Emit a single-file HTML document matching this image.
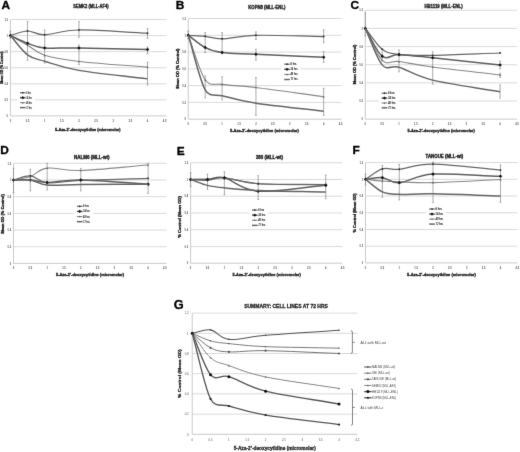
<!DOCTYPE html>
<html><head><meta charset="utf-8"><style>
html,body{margin:0;padding:0;background:#fff;width:520px;height:452px;overflow:hidden}
svg{display:block;filter:grayscale(1)}
text{font-family:"Liberation Sans",sans-serif}
</style></head><body>
<svg width="520" height="452" viewBox="0 0 520 452">
<defs><filter id="soft" x="0" y="0" width="520" height="452" filterUnits="userSpaceOnUse" color-interpolation-filters="sRGB">
<feConvolveMatrix order="3" kernelMatrix="0.00524 0.06192 0.00524 0.06192 0.73137 0.06192 0.00524 0.06192 0.00524" edgeMode="duplicate" preserveAlpha="true"/></filter></defs>
<rect width="520" height="452" fill="#fff"/>
<g filter="url(#soft)">
<rect width="520" height="452" fill="#fff"/>
<line x1="10.40" y1="99.84" x2="166.50" y2="99.84" stroke="#dadada" stroke-width="1.00"/>
<line x1="10.40" y1="83.78" x2="166.50" y2="83.78" stroke="#dadada" stroke-width="1.00"/>
<line x1="10.40" y1="67.72" x2="166.50" y2="67.72" stroke="#dadada" stroke-width="1.00"/>
<line x1="10.40" y1="51.66" x2="166.50" y2="51.66" stroke="#dadada" stroke-width="1.00"/>
<line x1="10.40" y1="35.60" x2="166.50" y2="35.60" stroke="#dadada" stroke-width="1.00"/>
<line x1="10.40" y1="19.54" x2="166.50" y2="19.54" stroke="#dadada" stroke-width="1.00"/>
<line x1="10.40" y1="115.90" x2="166.50" y2="115.90" stroke="#c4c4c4" stroke-width="0.90"/>
<line x1="10.40" y1="19.54" x2="10.40" y2="115.90" stroke="#c4c4c4" stroke-width="0.90"/>
<text x="8.00" y="117.14" font-size="2.60" text-anchor="end" font-weight="bold" fill="#5a5a5a">0</text>
<text x="8.00" y="101.08" font-size="2.60" text-anchor="end" font-weight="bold" fill="#5a5a5a">0.2</text>
<text x="8.00" y="85.02" font-size="2.60" text-anchor="end" font-weight="bold" fill="#5a5a5a">0.4</text>
<text x="8.00" y="68.96" font-size="2.60" text-anchor="end" font-weight="bold" fill="#5a5a5a">0.6</text>
<text x="8.00" y="52.90" font-size="2.60" text-anchor="end" font-weight="bold" fill="#5a5a5a">0.8</text>
<text x="8.00" y="36.84" font-size="2.60" text-anchor="end" font-weight="bold" fill="#5a5a5a">1</text>
<text x="8.00" y="20.78" font-size="2.60" text-anchor="end" font-weight="bold" fill="#5a5a5a">1.2</text>
<text x="10.40" y="121.90" font-size="2.60" text-anchor="middle" font-weight="bold" fill="#5a5a5a">0</text>
<text x="27.54" y="121.90" font-size="2.60" text-anchor="middle" font-weight="bold" fill="#5a5a5a">0.5</text>
<text x="44.68" y="121.90" font-size="2.60" text-anchor="middle" font-weight="bold" fill="#5a5a5a">1</text>
<text x="61.82" y="121.90" font-size="2.60" text-anchor="middle" font-weight="bold" fill="#5a5a5a">1.5</text>
<text x="78.96" y="121.90" font-size="2.60" text-anchor="middle" font-weight="bold" fill="#5a5a5a">2</text>
<text x="96.10" y="121.90" font-size="2.60" text-anchor="middle" font-weight="bold" fill="#5a5a5a">2.5</text>
<text x="113.24" y="121.90" font-size="2.60" text-anchor="middle" font-weight="bold" fill="#5a5a5a">3</text>
<text x="130.38" y="121.90" font-size="2.60" text-anchor="middle" font-weight="bold" fill="#5a5a5a">3.5</text>
<text x="147.52" y="121.90" font-size="2.60" text-anchor="middle" font-weight="bold" fill="#5a5a5a">4</text>
<text x="164.66" y="121.90" font-size="2.60" text-anchor="middle" font-weight="bold" fill="#5a5a5a">4.5</text>
<line x1="10.40" y1="31.10" x2="10.40" y2="38.30" stroke="#888888" stroke-width="0.70"/>
<line x1="9.50" y1="31.10" x2="11.30" y2="31.10" stroke="#888888" stroke-width="0.60"/>
<line x1="9.50" y1="38.30" x2="11.30" y2="38.30" stroke="#888888" stroke-width="0.60"/>
<line x1="27.54" y1="21.40" x2="27.54" y2="60.30" stroke="#888888" stroke-width="0.70"/>
<line x1="26.64" y1="21.40" x2="28.44" y2="21.40" stroke="#888888" stroke-width="0.60"/>
<line x1="26.64" y1="60.30" x2="28.44" y2="60.30" stroke="#888888" stroke-width="0.60"/>
<line x1="44.68" y1="29.90" x2="44.68" y2="63.10" stroke="#888888" stroke-width="0.70"/>
<line x1="43.78" y1="29.90" x2="45.58" y2="29.90" stroke="#888888" stroke-width="0.60"/>
<line x1="43.78" y1="63.10" x2="45.58" y2="63.10" stroke="#888888" stroke-width="0.60"/>
<line x1="78.96" y1="21.70" x2="78.96" y2="37.30" stroke="#888888" stroke-width="0.70"/>
<line x1="78.06" y1="21.70" x2="79.86" y2="21.70" stroke="#888888" stroke-width="0.60"/>
<line x1="78.06" y1="37.30" x2="79.86" y2="37.30" stroke="#888888" stroke-width="0.60"/>
<line x1="78.96" y1="45.10" x2="78.96" y2="64.60" stroke="#888888" stroke-width="0.70"/>
<line x1="78.06" y1="45.10" x2="79.86" y2="45.10" stroke="#888888" stroke-width="0.60"/>
<line x1="78.06" y1="64.60" x2="79.86" y2="64.60" stroke="#888888" stroke-width="0.60"/>
<line x1="147.52" y1="28.50" x2="147.52" y2="38.30" stroke="#888888" stroke-width="0.70"/>
<line x1="146.62" y1="28.50" x2="148.42" y2="28.50" stroke="#888888" stroke-width="0.60"/>
<line x1="146.62" y1="38.30" x2="148.42" y2="38.30" stroke="#888888" stroke-width="0.60"/>
<line x1="147.52" y1="47.00" x2="147.52" y2="53.80" stroke="#888888" stroke-width="0.70"/>
<line x1="146.62" y1="47.00" x2="148.42" y2="47.00" stroke="#888888" stroke-width="0.60"/>
<line x1="146.62" y1="53.80" x2="148.42" y2="53.80" stroke="#888888" stroke-width="0.60"/>
<line x1="147.52" y1="62.20" x2="147.52" y2="85.00" stroke="#888888" stroke-width="0.70"/>
<line x1="146.62" y1="62.20" x2="148.42" y2="62.20" stroke="#888888" stroke-width="0.60"/>
<line x1="146.62" y1="85.00" x2="148.42" y2="85.00" stroke="#888888" stroke-width="0.60"/>
<path d="M10.40,35.60 C16.11,38.81 21.83,41.96 27.54,45.24 C33.25,48.51 36.11,52.57 44.68,55.27 C53.25,57.98 61.82,59.48 78.96,61.46 C96.10,63.44 124.67,65.26 147.52,67.16" fill="none" stroke="#888888" stroke-width="1.10"/>
<path d="M10.40,34.50l1.10,1.98h-2.20z" fill="#666"/>
<path d="M27.54,44.14l1.10,1.98h-2.20z" fill="#666"/>
<path d="M44.68,54.17l1.10,1.98h-2.20z" fill="#666"/>
<path d="M78.96,60.36l1.10,1.98h-2.20z" fill="#666"/>
<path d="M147.52,66.06l1.10,1.98h-2.20z" fill="#666"/>
<path d="M10.40,35.60 C16.11,34.07 21.83,31.16 27.54,31.02 C33.25,30.89 36.11,34.97 44.68,34.80 C53.25,34.62 61.82,30.25 78.96,29.98 C96.10,29.71 124.67,32.12 147.52,33.19" fill="none" stroke="#686868" stroke-width="1.20"/>
<path d="M10.40,34.40l1.20,1.20l-1.20,1.20l-1.20,-1.20z" fill="#333"/>
<path d="M27.54,29.82l1.20,1.20l-1.20,1.20l-1.20,-1.20z" fill="#333"/>
<path d="M44.68,33.60l1.20,1.20l-1.20,1.20l-1.20,-1.20z" fill="#333"/>
<path d="M78.96,28.78l1.20,1.20l-1.20,1.20l-1.20,-1.20z" fill="#333"/>
<path d="M147.52,31.99l1.20,1.20l-1.20,1.20l-1.20,-1.20z" fill="#333"/>
<path d="M10.40,35.60 C16.11,38.17 21.83,41.25 27.54,43.31 C33.25,45.37 36.11,47.19 44.68,47.97 C53.25,48.74 61.82,47.70 78.96,47.97 C96.10,48.23 124.67,49.04 147.52,49.57" fill="none" stroke="#606060" stroke-width="1.50"/>
<path d="M10.40,33.80l1.80,1.80l-1.80,1.80l-1.80,-1.80z" fill="#1a1a1a"/>
<path d="M27.54,41.51l1.80,1.80l-1.80,1.80l-1.80,-1.80z" fill="#1a1a1a"/>
<path d="M44.68,46.17l1.80,1.80l-1.80,1.80l-1.80,-1.80z" fill="#1a1a1a"/>
<path d="M78.96,46.17l1.80,1.80l-1.80,1.80l-1.80,-1.80z" fill="#1a1a1a"/>
<path d="M147.52,47.77l1.80,1.80l-1.80,1.80l-1.80,-1.80z" fill="#1a1a1a"/>
<path d="M10.40,35.60 C16.11,42.02 21.83,50.59 27.54,54.87 C33.25,59.15 36.11,58.71 44.68,61.30 C53.25,63.88 61.82,67.44 78.96,70.37 C96.10,73.30 124.67,76.04 147.52,78.88" fill="none" stroke="#666666" stroke-width="1.50"/>





<rect x="17.00" y="89.55" width="17.80" height="21.25" fill="#fff"/>
<line x1="20.00" y1="92.75" x2="25.60" y2="92.75" stroke="#686868" stroke-width="1.20"/>
<path d="M22.80,91.67l1.08,1.08l-1.08,1.08l-1.08,-1.08z" fill="#333"/>
<text x="26.20" y="93.70" font-size="2.60" textLength="4.60" lengthAdjust="spacingAndGlyphs" fill="#222" stroke="#222" stroke-width="0.10">6 hrs</text>
<line x1="20.00" y1="97.70" x2="25.60" y2="97.70" stroke="#606060" stroke-width="1.50"/>
<path d="M22.80,96.08l1.62,1.62l-1.62,1.62l-1.62,-1.62z" fill="#1a1a1a"/>
<text x="26.20" y="98.65" font-size="2.60" textLength="5.60" lengthAdjust="spacingAndGlyphs" fill="#222" stroke="#222" stroke-width="0.10">24 hrs</text>
<line x1="20.00" y1="102.65" x2="25.60" y2="102.65" stroke="#888888" stroke-width="1.10"/>
<path d="M22.80,101.66l0.99,1.78h-1.98z" fill="#666"/>
<text x="26.20" y="103.60" font-size="2.60" textLength="5.60" lengthAdjust="spacingAndGlyphs" fill="#222" stroke="#222" stroke-width="0.10">48 hrs</text>
<line x1="20.00" y1="107.60" x2="25.60" y2="107.60" stroke="#666666" stroke-width="1.50"/>

<text x="26.20" y="108.55" font-size="2.60" textLength="5.60" lengthAdjust="spacingAndGlyphs" fill="#222" stroke="#222" stroke-width="0.10">72 hrs</text>
<text x="73.30" y="8.20" font-size="4.50" font-weight="bold" textLength="35.20" lengthAdjust="spacingAndGlyphs" fill="#262626" stroke="#262626" stroke-width="0.35">SEMK2 (MLL-AF4)</text>
<text transform="translate(1.60,9.00) scale(1.080,1)" font-size="11.00" font-weight="bold" fill="#000" stroke="#000" stroke-width="0.3">A</text>
<text transform="translate(3.25,83.80) rotate(-90)" font-size="3.80" font-weight="bold" textLength="32.50" lengthAdjust="spacingAndGlyphs" fill="#262626" stroke="#262626" stroke-width="0.32">Mean OD (% Control)</text>
<text x="55.10" y="131.10" font-size="4.40" font-weight="bold" textLength="65.40" lengthAdjust="spacingAndGlyphs" fill="#262626" stroke="#262626" stroke-width="0.35">5-Aza-2&#8217;-deoxycytidine (micromolar)</text>
<line x1="188.25" y1="102.42" x2="341.50" y2="102.42" stroke="#dadada" stroke-width="1.00"/>
<line x1="188.25" y1="85.64" x2="341.50" y2="85.64" stroke="#dadada" stroke-width="1.00"/>
<line x1="188.25" y1="68.86" x2="341.50" y2="68.86" stroke="#dadada" stroke-width="1.00"/>
<line x1="188.25" y1="52.08" x2="341.50" y2="52.08" stroke="#dadada" stroke-width="1.00"/>
<line x1="188.25" y1="35.30" x2="341.50" y2="35.30" stroke="#dadada" stroke-width="1.00"/>
<line x1="188.25" y1="18.52" x2="341.50" y2="18.52" stroke="#dadada" stroke-width="1.00"/>
<line x1="188.25" y1="119.20" x2="341.50" y2="119.20" stroke="#c4c4c4" stroke-width="0.90"/>
<line x1="188.25" y1="18.52" x2="188.25" y2="119.20" stroke="#c4c4c4" stroke-width="0.90"/>
<text x="185.85" y="120.44" font-size="2.60" text-anchor="end" font-weight="bold" fill="#5a5a5a">0</text>
<text x="185.85" y="103.66" font-size="2.60" text-anchor="end" font-weight="bold" fill="#5a5a5a">0.2</text>
<text x="185.85" y="86.88" font-size="2.60" text-anchor="end" font-weight="bold" fill="#5a5a5a">0.4</text>
<text x="185.85" y="70.10" font-size="2.60" text-anchor="end" font-weight="bold" fill="#5a5a5a">0.6</text>
<text x="185.85" y="53.32" font-size="2.60" text-anchor="end" font-weight="bold" fill="#5a5a5a">0.8</text>
<text x="185.85" y="36.54" font-size="2.60" text-anchor="end" font-weight="bold" fill="#5a5a5a">1</text>
<text x="185.85" y="19.76" font-size="2.60" text-anchor="end" font-weight="bold" fill="#5a5a5a">1.2</text>
<text x="188.25" y="125.20" font-size="2.60" text-anchor="middle" font-weight="bold" fill="#5a5a5a">0</text>
<text x="205.18" y="125.20" font-size="2.60" text-anchor="middle" font-weight="bold" fill="#5a5a5a">0.5</text>
<text x="222.10" y="125.20" font-size="2.60" text-anchor="middle" font-weight="bold" fill="#5a5a5a">1</text>
<text x="239.03" y="125.20" font-size="2.60" text-anchor="middle" font-weight="bold" fill="#5a5a5a">1.5</text>
<text x="255.95" y="125.20" font-size="2.60" text-anchor="middle" font-weight="bold" fill="#5a5a5a">2</text>
<text x="272.88" y="125.20" font-size="2.60" text-anchor="middle" font-weight="bold" fill="#5a5a5a">2.5</text>
<text x="289.80" y="125.20" font-size="2.60" text-anchor="middle" font-weight="bold" fill="#5a5a5a">3</text>
<text x="306.73" y="125.20" font-size="2.60" text-anchor="middle" font-weight="bold" fill="#5a5a5a">3.5</text>
<text x="323.65" y="125.20" font-size="2.60" text-anchor="middle" font-weight="bold" fill="#5a5a5a">4</text>
<text x="340.58" y="125.20" font-size="2.60" text-anchor="middle" font-weight="bold" fill="#5a5a5a">4.5</text>
<line x1="188.25" y1="31.00" x2="188.25" y2="39.00" stroke="#888888" stroke-width="0.70"/>
<line x1="187.35" y1="31.00" x2="189.15" y2="31.00" stroke="#888888" stroke-width="0.60"/>
<line x1="187.35" y1="39.00" x2="189.15" y2="39.00" stroke="#888888" stroke-width="0.60"/>
<line x1="205.18" y1="32.60" x2="205.18" y2="52.60" stroke="#888888" stroke-width="0.70"/>
<line x1="204.28" y1="32.60" x2="206.08" y2="32.60" stroke="#888888" stroke-width="0.60"/>
<line x1="204.28" y1="52.60" x2="206.08" y2="52.60" stroke="#888888" stroke-width="0.60"/>
<line x1="205.18" y1="75.80" x2="205.18" y2="97.90" stroke="#888888" stroke-width="0.70"/>
<line x1="204.28" y1="75.80" x2="206.08" y2="75.80" stroke="#888888" stroke-width="0.60"/>
<line x1="204.28" y1="97.90" x2="206.08" y2="97.90" stroke="#888888" stroke-width="0.60"/>
<line x1="222.10" y1="32.60" x2="222.10" y2="53.70" stroke="#888888" stroke-width="0.70"/>
<line x1="221.20" y1="32.60" x2="223.00" y2="32.60" stroke="#888888" stroke-width="0.60"/>
<line x1="221.20" y1="53.70" x2="223.00" y2="53.70" stroke="#888888" stroke-width="0.60"/>
<line x1="222.10" y1="76.80" x2="222.10" y2="100.00" stroke="#888888" stroke-width="0.70"/>
<line x1="221.20" y1="76.80" x2="223.00" y2="76.80" stroke="#888888" stroke-width="0.60"/>
<line x1="221.20" y1="100.00" x2="223.00" y2="100.00" stroke="#888888" stroke-width="0.60"/>
<line x1="255.95" y1="31.90" x2="255.95" y2="39.50" stroke="#888888" stroke-width="0.70"/>
<line x1="255.05" y1="31.90" x2="256.85" y2="31.90" stroke="#888888" stroke-width="0.60"/>
<line x1="255.05" y1="39.50" x2="256.85" y2="39.50" stroke="#888888" stroke-width="0.60"/>
<line x1="255.95" y1="49.30" x2="255.95" y2="60.10" stroke="#888888" stroke-width="0.70"/>
<line x1="255.05" y1="49.30" x2="256.85" y2="49.30" stroke="#888888" stroke-width="0.60"/>
<line x1="255.05" y1="60.10" x2="256.85" y2="60.10" stroke="#888888" stroke-width="0.60"/>
<line x1="255.95" y1="77.50" x2="255.95" y2="115.40" stroke="#888888" stroke-width="0.70"/>
<line x1="255.05" y1="77.50" x2="256.85" y2="77.50" stroke="#888888" stroke-width="0.60"/>
<line x1="255.05" y1="115.40" x2="256.85" y2="115.40" stroke="#888888" stroke-width="0.60"/>
<line x1="323.65" y1="29.80" x2="323.65" y2="42.80" stroke="#888888" stroke-width="0.70"/>
<line x1="322.75" y1="29.80" x2="324.55" y2="29.80" stroke="#888888" stroke-width="0.60"/>
<line x1="322.75" y1="42.80" x2="324.55" y2="42.80" stroke="#888888" stroke-width="0.60"/>
<line x1="323.65" y1="51.50" x2="323.65" y2="62.30" stroke="#888888" stroke-width="0.70"/>
<line x1="322.75" y1="51.50" x2="324.55" y2="51.50" stroke="#888888" stroke-width="0.60"/>
<line x1="322.75" y1="62.30" x2="324.55" y2="62.30" stroke="#888888" stroke-width="0.60"/>
<line x1="323.65" y1="88.30" x2="323.65" y2="115.40" stroke="#888888" stroke-width="0.70"/>
<line x1="322.75" y1="88.30" x2="324.55" y2="88.30" stroke="#888888" stroke-width="0.60"/>
<line x1="322.75" y1="115.40" x2="324.55" y2="115.40" stroke="#888888" stroke-width="0.60"/>
<path d="M188.25,35.30 C193.89,50.12 199.53,71.59 205.18,79.77 C210.15,86.99 214.63,83.25 222.10,84.38 C230.54,85.66 239.08,85.44 255.95,87.49 C272.88,89.54 301.08,93.64 323.65,96.71" fill="none" stroke="#888888" stroke-width="1.10"/>
<path d="M188.25,34.20l1.10,1.98h-2.20z" fill="#666"/>
<path d="M205.18,78.67l1.10,1.98h-2.20z" fill="#666"/>
<path d="M222.10,83.28l1.10,1.98h-2.20z" fill="#666"/>
<path d="M255.95,86.39l1.10,1.98h-2.20z" fill="#666"/>
<path d="M323.65,95.61l1.10,1.98h-2.20z" fill="#666"/>
<path d="M188.25,35.30 C193.89,35.64 199.53,35.72 205.18,36.31 C210.82,36.89 213.64,38.99 222.10,38.82 C230.56,38.66 239.02,35.68 255.95,35.30 C272.88,34.92 301.08,36.14 323.65,36.56" fill="none" stroke="#686868" stroke-width="1.20"/>
<path d="M188.25,34.10l1.20,1.20l-1.20,1.20l-1.20,-1.20z" fill="#333"/>
<path d="M205.18,35.11l1.20,1.20l-1.20,1.20l-1.20,-1.20z" fill="#333"/>
<path d="M222.10,37.62l1.20,1.20l-1.20,1.20l-1.20,-1.20z" fill="#333"/>
<path d="M255.95,34.10l1.20,1.20l-1.20,1.20l-1.20,-1.20z" fill="#333"/>
<path d="M323.65,35.36l1.20,1.20l-1.20,1.20l-1.20,-1.20z" fill="#333"/>
<path d="M188.25,35.30 C193.89,39.38 199.53,44.68 205.18,47.55 C210.82,50.42 213.64,51.38 222.10,52.50 C230.56,53.62 239.02,53.46 255.95,54.26 C272.88,55.06 301.08,56.27 323.65,57.28" fill="none" stroke="#606060" stroke-width="1.50"/>
<path d="M188.25,33.50l1.80,1.80l-1.80,1.80l-1.80,-1.80z" fill="#1a1a1a"/>
<path d="M205.18,45.75l1.80,1.80l-1.80,1.80l-1.80,-1.80z" fill="#1a1a1a"/>
<path d="M222.10,50.70l1.80,1.80l-1.80,1.80l-1.80,-1.80z" fill="#1a1a1a"/>
<path d="M255.95,52.46l1.80,1.80l-1.80,1.80l-1.80,-1.80z" fill="#1a1a1a"/>
<path d="M323.65,55.48l1.80,1.80l-1.80,1.80l-1.80,-1.80z" fill="#1a1a1a"/>
<path d="M188.25,35.30 C193.89,53.48 199.53,79.77 205.18,89.84 C209.55,97.65 215.53,93.97 222.10,95.71 C230.56,97.95 239.02,100.67 255.95,103.26 C272.88,105.85 301.08,108.57 323.65,111.23" fill="none" stroke="#666666" stroke-width="1.50"/>





<rect x="281.20" y="61.00" width="19.30" height="21.70" fill="#fff"/>
<line x1="284.20" y1="64.20" x2="289.80" y2="64.20" stroke="#686868" stroke-width="1.20"/>
<path d="M287.00,63.12l1.08,1.08l-1.08,1.08l-1.08,-1.08z" fill="#333"/>
<text x="290.40" y="65.15" font-size="2.60" textLength="6.10" lengthAdjust="spacingAndGlyphs" fill="#222" stroke="#222" stroke-width="0.10">6 hrs</text>
<line x1="284.20" y1="69.30" x2="289.80" y2="69.30" stroke="#606060" stroke-width="1.50"/>
<path d="M287.00,67.68l1.62,1.62l-1.62,1.62l-1.62,-1.62z" fill="#1a1a1a"/>
<text x="290.40" y="70.25" font-size="2.60" textLength="7.10" lengthAdjust="spacingAndGlyphs" fill="#222" stroke="#222" stroke-width="0.10">24 hrs</text>
<line x1="284.20" y1="74.40" x2="289.80" y2="74.40" stroke="#888888" stroke-width="1.10"/>
<path d="M287.00,73.41l0.99,1.78h-1.98z" fill="#666"/>
<text x="290.40" y="75.35" font-size="2.60" textLength="7.10" lengthAdjust="spacingAndGlyphs" fill="#222" stroke="#222" stroke-width="0.10">48 hrs</text>
<line x1="284.20" y1="79.50" x2="289.80" y2="79.50" stroke="#666666" stroke-width="1.50"/>

<text x="290.40" y="80.45" font-size="2.60" textLength="7.10" lengthAdjust="spacingAndGlyphs" fill="#222" stroke="#222" stroke-width="0.10">72 hrs</text>
<text x="248.30" y="8.80" font-size="4.50" font-weight="bold" textLength="37.10" lengthAdjust="spacingAndGlyphs" fill="#262626" stroke="#262626" stroke-width="0.35">KOPN8 (MLL-ENL)</text>
<text transform="translate(175.80,9.00) scale(1.080,1)" font-size="11.00" font-weight="bold" fill="#000" stroke="#000" stroke-width="0.3">B</text>
<text transform="translate(178.75,88.50) rotate(-90)" font-size="3.80" font-weight="bold" textLength="39.90" lengthAdjust="spacingAndGlyphs" fill="#262626" stroke="#262626" stroke-width="0.32">Mean OD (% Control)</text>
<text x="230.00" y="131.80" font-size="4.40" font-weight="bold" textLength="68.80" lengthAdjust="spacingAndGlyphs" fill="#262626" stroke="#262626" stroke-width="0.35">5-Aza-2&#8217;-deoxycytidine (micromolar)</text>
<line x1="365.30" y1="101.00" x2="517.00" y2="101.00" stroke="#dadada" stroke-width="1.00"/>
<line x1="365.30" y1="82.85" x2="517.00" y2="82.85" stroke="#dadada" stroke-width="1.00"/>
<line x1="365.30" y1="64.70" x2="517.00" y2="64.70" stroke="#dadada" stroke-width="1.00"/>
<line x1="365.30" y1="46.55" x2="517.00" y2="46.55" stroke="#dadada" stroke-width="1.00"/>
<line x1="365.30" y1="28.40" x2="517.00" y2="28.40" stroke="#dadada" stroke-width="1.00"/>
<line x1="365.30" y1="10.25" x2="517.00" y2="10.25" stroke="#dadada" stroke-width="1.00"/>
<line x1="365.30" y1="119.15" x2="517.00" y2="119.15" stroke="#c4c4c4" stroke-width="0.90"/>
<line x1="365.30" y1="10.25" x2="365.30" y2="119.15" stroke="#c4c4c4" stroke-width="0.90"/>
<text x="362.90" y="120.39" font-size="2.60" text-anchor="end" font-weight="bold" fill="#5a5a5a">0</text>
<text x="362.90" y="102.24" font-size="2.60" text-anchor="end" font-weight="bold" fill="#5a5a5a">0.2</text>
<text x="362.90" y="84.09" font-size="2.60" text-anchor="end" font-weight="bold" fill="#5a5a5a">0.4</text>
<text x="362.90" y="65.94" font-size="2.60" text-anchor="end" font-weight="bold" fill="#5a5a5a">0.6</text>
<text x="362.90" y="47.79" font-size="2.60" text-anchor="end" font-weight="bold" fill="#5a5a5a">0.8</text>
<text x="362.90" y="29.64" font-size="2.60" text-anchor="end" font-weight="bold" fill="#5a5a5a">1</text>
<text x="362.90" y="11.49" font-size="2.60" text-anchor="end" font-weight="bold" fill="#5a5a5a">1.2</text>
<text x="365.30" y="125.15" font-size="2.60" text-anchor="middle" font-weight="bold" fill="#5a5a5a">0</text>
<text x="382.15" y="125.15" font-size="2.60" text-anchor="middle" font-weight="bold" fill="#5a5a5a">0.5</text>
<text x="399.00" y="125.15" font-size="2.60" text-anchor="middle" font-weight="bold" fill="#5a5a5a">1</text>
<text x="415.85" y="125.15" font-size="2.60" text-anchor="middle" font-weight="bold" fill="#5a5a5a">1.5</text>
<text x="432.70" y="125.15" font-size="2.60" text-anchor="middle" font-weight="bold" fill="#5a5a5a">2</text>
<text x="449.55" y="125.15" font-size="2.60" text-anchor="middle" font-weight="bold" fill="#5a5a5a">2.5</text>
<text x="466.40" y="125.15" font-size="2.60" text-anchor="middle" font-weight="bold" fill="#5a5a5a">3</text>
<text x="483.25" y="125.15" font-size="2.60" text-anchor="middle" font-weight="bold" fill="#5a5a5a">3.5</text>
<text x="500.10" y="125.15" font-size="2.60" text-anchor="middle" font-weight="bold" fill="#5a5a5a">4</text>
<text x="516.95" y="125.15" font-size="2.60" text-anchor="middle" font-weight="bold" fill="#5a5a5a">4.5</text>
<line x1="365.30" y1="13.00" x2="365.30" y2="36.00" stroke="#888888" stroke-width="0.70"/>
<line x1="364.40" y1="13.00" x2="366.20" y2="13.00" stroke="#888888" stroke-width="0.60"/>
<line x1="364.40" y1="36.00" x2="366.20" y2="36.00" stroke="#888888" stroke-width="0.60"/>
<line x1="382.15" y1="51.70" x2="382.15" y2="58.70" stroke="#888888" stroke-width="0.70"/>
<line x1="381.25" y1="51.70" x2="383.05" y2="51.70" stroke="#888888" stroke-width="0.60"/>
<line x1="381.25" y1="58.70" x2="383.05" y2="58.70" stroke="#888888" stroke-width="0.60"/>
<line x1="399.00" y1="50.00" x2="399.00" y2="71.80" stroke="#888888" stroke-width="0.70"/>
<line x1="398.10" y1="50.00" x2="399.90" y2="50.00" stroke="#888888" stroke-width="0.60"/>
<line x1="398.10" y1="71.80" x2="399.90" y2="71.80" stroke="#888888" stroke-width="0.60"/>
<line x1="432.70" y1="51.70" x2="432.70" y2="84.20" stroke="#888888" stroke-width="0.70"/>
<line x1="431.80" y1="51.70" x2="433.60" y2="51.70" stroke="#888888" stroke-width="0.60"/>
<line x1="431.80" y1="84.20" x2="433.60" y2="84.20" stroke="#888888" stroke-width="0.60"/>
<line x1="500.10" y1="61.00" x2="500.10" y2="69.00" stroke="#888888" stroke-width="0.70"/>
<line x1="499.20" y1="61.00" x2="501.00" y2="61.00" stroke="#888888" stroke-width="0.60"/>
<line x1="499.20" y1="69.00" x2="501.00" y2="69.00" stroke="#888888" stroke-width="0.60"/>
<line x1="500.10" y1="73.40" x2="500.10" y2="77.40" stroke="#888888" stroke-width="0.70"/>
<line x1="499.20" y1="73.40" x2="501.00" y2="73.40" stroke="#888888" stroke-width="0.60"/>
<line x1="499.20" y1="77.40" x2="501.00" y2="77.40" stroke="#888888" stroke-width="0.60"/>
<line x1="500.10" y1="84.90" x2="500.10" y2="98.10" stroke="#888888" stroke-width="0.70"/>
<line x1="499.20" y1="84.90" x2="501.00" y2="84.90" stroke="#888888" stroke-width="0.60"/>
<line x1="499.20" y1="98.10" x2="501.00" y2="98.10" stroke="#888888" stroke-width="0.60"/>
<path d="M365.30,28.40 C370.92,39.05 376.53,54.82 382.15,60.34 C387.73,65.83 390.63,60.41 399.00,61.52 C407.43,62.64 415.85,64.82 432.70,67.06 C449.55,69.30 477.63,72.32 500.10,74.95" fill="none" stroke="#888888" stroke-width="1.10"/>
<path d="M365.30,27.30l1.10,1.98h-2.20z" fill="#666"/>
<path d="M382.15,59.24l1.10,1.98h-2.20z" fill="#666"/>
<path d="M399.00,60.42l1.10,1.98h-2.20z" fill="#666"/>
<path d="M432.70,65.96l1.10,1.98h-2.20z" fill="#666"/>
<path d="M500.10,73.85l1.10,1.98h-2.20z" fill="#666"/>
<path d="M365.30,28.40 C370.92,35.33 376.53,44.86 382.15,49.18 C387.77,53.51 390.57,53.33 399.00,54.35 C407.43,55.38 415.85,55.58 432.70,55.35 C449.55,55.13 477.63,53.78 500.10,52.99" fill="none" stroke="#686868" stroke-width="1.20"/>
<path d="M365.30,27.20l1.20,1.20l-1.20,1.20l-1.20,-1.20z" fill="#333"/>
<path d="M382.15,47.98l1.20,1.20l-1.20,1.20l-1.20,-1.20z" fill="#333"/>
<path d="M399.00,53.15l1.20,1.20l-1.20,1.20l-1.20,-1.20z" fill="#333"/>
<path d="M432.70,54.15l1.20,1.20l-1.20,1.20l-1.20,-1.20z" fill="#333"/>
<path d="M500.10,51.79l1.20,1.20l-1.20,1.20l-1.20,-1.20z" fill="#333"/>
<path d="M365.30,28.40 C370.92,37.66 376.53,51.80 382.15,56.17 C387.77,60.54 390.57,54.37 399.00,54.63 C407.42,54.88 415.87,55.99 432.70,57.71 C449.55,59.44 477.63,62.55 500.10,64.97" fill="none" stroke="#606060" stroke-width="1.50"/>
<path d="M365.30,26.60l1.80,1.80l-1.80,1.80l-1.80,-1.80z" fill="#1a1a1a"/>
<path d="M382.15,54.37l1.80,1.80l-1.80,1.80l-1.80,-1.80z" fill="#1a1a1a"/>
<path d="M399.00,52.83l1.80,1.80l-1.80,1.80l-1.80,-1.80z" fill="#1a1a1a"/>
<path d="M432.70,55.91l1.80,1.80l-1.80,1.80l-1.80,-1.80z" fill="#1a1a1a"/>
<path d="M500.10,63.17l1.80,1.80l-1.80,1.80l-1.80,-1.80z" fill="#1a1a1a"/>
<path d="M365.30,28.40 C370.92,40.56 376.53,58.41 382.15,64.88 C387.73,71.31 390.86,64.78 399.00,67.24 C407.43,69.78 415.85,76.04 432.70,80.13 C449.55,84.21 477.63,87.87 500.10,91.74" fill="none" stroke="#666666" stroke-width="1.50"/>





<rect x="378.70" y="90.00" width="19.80" height="21.01" fill="#fff"/>
<line x1="381.70" y1="93.20" x2="387.30" y2="93.20" stroke="#686868" stroke-width="1.20"/>
<path d="M384.50,92.12l1.08,1.08l-1.08,1.08l-1.08,-1.08z" fill="#333"/>
<text x="387.90" y="94.15" font-size="2.60" textLength="6.60" lengthAdjust="spacingAndGlyphs" fill="#222" stroke="#222" stroke-width="0.10">6 hrs</text>
<line x1="381.70" y1="98.07" x2="387.30" y2="98.07" stroke="#606060" stroke-width="1.50"/>
<path d="M384.50,96.45l1.62,1.62l-1.62,1.62l-1.62,-1.62z" fill="#1a1a1a"/>
<text x="387.90" y="99.02" font-size="2.60" textLength="7.60" lengthAdjust="spacingAndGlyphs" fill="#222" stroke="#222" stroke-width="0.10">24 hrs</text>
<line x1="381.70" y1="102.94" x2="387.30" y2="102.94" stroke="#888888" stroke-width="1.10"/>
<path d="M384.50,101.95l0.99,1.78h-1.98z" fill="#666"/>
<text x="387.90" y="103.89" font-size="2.60" textLength="7.60" lengthAdjust="spacingAndGlyphs" fill="#222" stroke="#222" stroke-width="0.10">48 hrs</text>
<line x1="381.70" y1="107.81" x2="387.30" y2="107.81" stroke="#666666" stroke-width="1.50"/>

<text x="387.90" y="108.76" font-size="2.60" textLength="7.60" lengthAdjust="spacingAndGlyphs" fill="#222" stroke="#222" stroke-width="0.10">72 hrs</text>
<text x="424.40" y="7.80" font-size="4.50" font-weight="bold" textLength="38.30" lengthAdjust="spacingAndGlyphs" fill="#262626" stroke="#262626" stroke-width="0.35">HB1119 (MLL-ENL)</text>
<text transform="translate(350.60,8.80) scale(1.080,1)" font-size="11.00" font-weight="bold" fill="#000" stroke="#000" stroke-width="0.3">C</text>
<text transform="translate(355.75,84.30) rotate(-90)" font-size="3.80" font-weight="bold" textLength="39.55" lengthAdjust="spacingAndGlyphs" fill="#262626" stroke="#262626" stroke-width="0.32">Mean OD (% Control)</text>
<text x="407.50" y="131.70" font-size="4.40" font-weight="bold" textLength="67.30" lengthAdjust="spacingAndGlyphs" fill="#262626" stroke="#262626" stroke-width="0.35">5-Aza-2&#8217;-deoxycytidine (micromolar)</text>
<line x1="13.50" y1="246.72" x2="166.50" y2="246.72" stroke="#dadada" stroke-width="1.00"/>
<line x1="13.50" y1="230.04" x2="166.50" y2="230.04" stroke="#dadada" stroke-width="1.00"/>
<line x1="13.50" y1="213.36" x2="166.50" y2="213.36" stroke="#dadada" stroke-width="1.00"/>
<line x1="13.50" y1="196.68" x2="166.50" y2="196.68" stroke="#dadada" stroke-width="1.00"/>
<line x1="13.50" y1="180.00" x2="166.50" y2="180.00" stroke="#dadada" stroke-width="1.00"/>
<line x1="13.50" y1="163.32" x2="166.50" y2="163.32" stroke="#dadada" stroke-width="1.00"/>
<line x1="13.50" y1="263.40" x2="166.50" y2="263.40" stroke="#c4c4c4" stroke-width="0.90"/>
<line x1="13.50" y1="163.32" x2="13.50" y2="263.40" stroke="#c4c4c4" stroke-width="0.90"/>
<text x="11.10" y="264.64" font-size="2.60" text-anchor="end" font-weight="bold" fill="#5a5a5a">0</text>
<text x="11.10" y="247.96" font-size="2.60" text-anchor="end" font-weight="bold" fill="#5a5a5a">0.2</text>
<text x="11.10" y="231.28" font-size="2.60" text-anchor="end" font-weight="bold" fill="#5a5a5a">0.4</text>
<text x="11.10" y="214.60" font-size="2.60" text-anchor="end" font-weight="bold" fill="#5a5a5a">0.6</text>
<text x="11.10" y="197.92" font-size="2.60" text-anchor="end" font-weight="bold" fill="#5a5a5a">0.8</text>
<text x="11.10" y="181.24" font-size="2.60" text-anchor="end" font-weight="bold" fill="#5a5a5a">1</text>
<text x="11.10" y="164.56" font-size="2.60" text-anchor="end" font-weight="bold" fill="#5a5a5a">1.2</text>
<text x="13.50" y="269.40" font-size="2.60" text-anchor="middle" font-weight="bold" fill="#5a5a5a">0</text>
<text x="30.32" y="269.40" font-size="2.60" text-anchor="middle" font-weight="bold" fill="#5a5a5a">0.5</text>
<text x="47.15" y="269.40" font-size="2.60" text-anchor="middle" font-weight="bold" fill="#5a5a5a">1</text>
<text x="63.97" y="269.40" font-size="2.60" text-anchor="middle" font-weight="bold" fill="#5a5a5a">1.5</text>
<text x="80.80" y="269.40" font-size="2.60" text-anchor="middle" font-weight="bold" fill="#5a5a5a">2</text>
<text x="97.62" y="269.40" font-size="2.60" text-anchor="middle" font-weight="bold" fill="#5a5a5a">2.5</text>
<text x="114.45" y="269.40" font-size="2.60" text-anchor="middle" font-weight="bold" fill="#5a5a5a">3</text>
<text x="131.27" y="269.40" font-size="2.60" text-anchor="middle" font-weight="bold" fill="#5a5a5a">3.5</text>
<text x="148.10" y="269.40" font-size="2.60" text-anchor="middle" font-weight="bold" fill="#5a5a5a">4</text>
<text x="164.92" y="269.40" font-size="2.60" text-anchor="middle" font-weight="bold" fill="#5a5a5a">4.5</text>
<line x1="13.50" y1="168.40" x2="13.50" y2="192.60" stroke="#888888" stroke-width="0.70"/>
<line x1="12.60" y1="168.40" x2="14.40" y2="168.40" stroke="#888888" stroke-width="0.60"/>
<line x1="12.60" y1="192.60" x2="14.40" y2="192.60" stroke="#888888" stroke-width="0.60"/>
<line x1="30.32" y1="169.20" x2="30.32" y2="190.90" stroke="#888888" stroke-width="0.70"/>
<line x1="29.43" y1="169.20" x2="31.22" y2="169.20" stroke="#888888" stroke-width="0.60"/>
<line x1="29.43" y1="190.90" x2="31.22" y2="190.90" stroke="#888888" stroke-width="0.60"/>
<line x1="47.15" y1="163.20" x2="47.15" y2="190.00" stroke="#888888" stroke-width="0.70"/>
<line x1="46.25" y1="163.20" x2="48.05" y2="163.20" stroke="#888888" stroke-width="0.60"/>
<line x1="46.25" y1="190.00" x2="48.05" y2="190.00" stroke="#888888" stroke-width="0.60"/>
<line x1="80.80" y1="168.40" x2="80.80" y2="190.90" stroke="#888888" stroke-width="0.70"/>
<line x1="79.90" y1="168.40" x2="81.70" y2="168.40" stroke="#888888" stroke-width="0.60"/>
<line x1="79.90" y1="190.90" x2="81.70" y2="190.90" stroke="#888888" stroke-width="0.60"/>
<line x1="148.10" y1="163.20" x2="148.10" y2="193.40" stroke="#888888" stroke-width="0.70"/>
<line x1="147.20" y1="163.20" x2="149.00" y2="163.20" stroke="#888888" stroke-width="0.60"/>
<line x1="147.20" y1="193.40" x2="149.00" y2="193.40" stroke="#888888" stroke-width="0.60"/>
<path d="M13.50,180.00 C19.11,178.83 24.72,178.47 30.32,176.50 C35.93,174.52 38.74,169.16 47.15,168.16 C55.56,167.16 63.98,171.02 80.80,170.49 C97.62,169.96 125.67,166.82 148.10,164.99" fill="none" stroke="#888888" stroke-width="1.10"/>
<path d="M13.50,178.90l1.10,1.98h-2.20z" fill="#666"/>
<path d="M30.32,175.40l1.10,1.98h-2.20z" fill="#666"/>
<path d="M47.15,167.06l1.10,1.98h-2.20z" fill="#666"/>
<path d="M80.80,169.39l1.10,1.98h-2.20z" fill="#666"/>
<path d="M148.10,163.89l1.10,1.98h-2.20z" fill="#666"/>
<path d="M13.50,180.00 C19.11,178.61 24.72,175.37 30.32,175.83 C35.93,176.29 38.74,181.99 47.15,182.75 C55.56,183.52 63.98,181.15 80.80,180.42 C97.62,179.68 125.67,179.03 148.10,178.33" fill="none" stroke="#686868" stroke-width="1.20"/>
<path d="M13.50,178.80l1.20,1.20l-1.20,1.20l-1.20,-1.20z" fill="#333"/>
<path d="M30.32,174.63l1.20,1.20l-1.20,1.20l-1.20,-1.20z" fill="#333"/>
<path d="M47.15,181.55l1.20,1.20l-1.20,1.20l-1.20,-1.20z" fill="#333"/>
<path d="M80.80,179.22l1.20,1.20l-1.20,1.20l-1.20,-1.20z" fill="#333"/>
<path d="M148.10,177.13l1.20,1.20l-1.20,1.20l-1.20,-1.20z" fill="#333"/>
<path d="M13.50,180.00 C19.11,180.00 24.72,179.58 30.32,180.00 C35.93,180.42 38.74,182.50 47.15,182.50 C55.56,182.50 63.98,179.72 80.80,180.00 C97.62,180.28 125.67,182.78 148.10,184.17" fill="none" stroke="#606060" stroke-width="1.50"/>
<path d="M13.50,178.20l1.80,1.80l-1.80,1.80l-1.80,-1.80z" fill="#1a1a1a"/>
<path d="M30.32,178.20l1.80,1.80l-1.80,1.80l-1.80,-1.80z" fill="#1a1a1a"/>
<path d="M47.15,180.70l1.80,1.80l-1.80,1.80l-1.80,-1.80z" fill="#1a1a1a"/>
<path d="M80.80,178.20l1.80,1.80l-1.80,1.80l-1.80,-1.80z" fill="#1a1a1a"/>
<path d="M148.10,182.37l1.80,1.80l-1.80,1.80l-1.80,-1.80z" fill="#1a1a1a"/>
<path d="M13.50,180.00 C19.11,180.00 24.72,179.17 30.32,180.00 C35.93,180.83 38.74,184.24 47.15,185.00 C55.56,185.77 63.98,184.73 80.80,184.59 C97.62,184.45 125.67,184.31 148.10,184.17" fill="none" stroke="#666666" stroke-width="1.50"/>





<rect x="73.90" y="203.10" width="18.90" height="21.79" fill="#fff"/>
<line x1="76.90" y1="206.30" x2="82.50" y2="206.30" stroke="#686868" stroke-width="1.20"/>
<path d="M79.70,205.22l1.08,1.08l-1.08,1.08l-1.08,-1.08z" fill="#333"/>
<text x="83.10" y="207.25" font-size="2.60" textLength="5.70" lengthAdjust="spacingAndGlyphs" fill="#222" stroke="#222" stroke-width="0.10">6 hrs</text>
<line x1="76.90" y1="211.43" x2="82.50" y2="211.43" stroke="#606060" stroke-width="1.50"/>
<path d="M79.70,209.81l1.62,1.62l-1.62,1.62l-1.62,-1.62z" fill="#1a1a1a"/>
<text x="83.10" y="212.38" font-size="2.60" textLength="6.70" lengthAdjust="spacingAndGlyphs" fill="#222" stroke="#222" stroke-width="0.10">24 hrs</text>
<line x1="76.90" y1="216.56" x2="82.50" y2="216.56" stroke="#888888" stroke-width="1.10"/>
<path d="M79.70,215.57l0.99,1.78h-1.98z" fill="#666"/>
<text x="83.10" y="217.51" font-size="2.60" textLength="6.70" lengthAdjust="spacingAndGlyphs" fill="#222" stroke="#222" stroke-width="0.10">48 hrs</text>
<line x1="76.90" y1="221.69" x2="82.50" y2="221.69" stroke="#666666" stroke-width="1.50"/>

<text x="83.10" y="222.64" font-size="2.60" textLength="6.70" lengthAdjust="spacingAndGlyphs" fill="#222" stroke="#222" stroke-width="0.10">72 hrs</text>
<text x="74.10" y="159.20" font-size="4.50" font-weight="bold" textLength="35.50" lengthAdjust="spacingAndGlyphs" fill="#262626" stroke="#262626" stroke-width="0.35">NALM6 (MLL-wt)</text>
<text transform="translate(0.30,154.00) scale(1.080,1)" font-size="11.00" font-weight="bold" fill="#000" stroke="#000" stroke-width="0.3">D</text>
<text transform="translate(3.85,233.60) rotate(-90)" font-size="3.80" font-weight="bold" textLength="39.30" lengthAdjust="spacingAndGlyphs" fill="#262626" stroke="#262626" stroke-width="0.32">Mean OD (% Control)</text>
<text x="56.00" y="275.90" font-size="4.40" font-weight="bold" textLength="68.00" lengthAdjust="spacingAndGlyphs" fill="#262626" stroke="#262626" stroke-width="0.35">5-Aza-2&#8217;-deoxycytidine (micromolar)</text>
<line x1="190.60" y1="246.46" x2="342.20" y2="246.46" stroke="#dadada" stroke-width="1.00"/>
<line x1="190.60" y1="229.72" x2="342.20" y2="229.72" stroke="#dadada" stroke-width="1.00"/>
<line x1="190.60" y1="212.98" x2="342.20" y2="212.98" stroke="#dadada" stroke-width="1.00"/>
<line x1="190.60" y1="196.24" x2="342.20" y2="196.24" stroke="#dadada" stroke-width="1.00"/>
<line x1="190.60" y1="179.50" x2="342.20" y2="179.50" stroke="#dadada" stroke-width="1.00"/>
<line x1="190.60" y1="162.76" x2="342.20" y2="162.76" stroke="#dadada" stroke-width="1.00"/>
<line x1="190.60" y1="263.20" x2="342.20" y2="263.20" stroke="#c4c4c4" stroke-width="0.90"/>
<line x1="190.60" y1="162.76" x2="190.60" y2="263.20" stroke="#c4c4c4" stroke-width="0.90"/>
<text x="188.20" y="264.44" font-size="2.60" text-anchor="end" font-weight="bold" fill="#5a5a5a">0</text>
<text x="188.20" y="247.70" font-size="2.60" text-anchor="end" font-weight="bold" fill="#5a5a5a">0.2</text>
<text x="188.20" y="230.96" font-size="2.60" text-anchor="end" font-weight="bold" fill="#5a5a5a">0.4</text>
<text x="188.20" y="214.22" font-size="2.60" text-anchor="end" font-weight="bold" fill="#5a5a5a">0.6</text>
<text x="188.20" y="197.48" font-size="2.60" text-anchor="end" font-weight="bold" fill="#5a5a5a">0.8</text>
<text x="188.20" y="180.74" font-size="2.60" text-anchor="end" font-weight="bold" fill="#5a5a5a">1</text>
<text x="188.20" y="164.00" font-size="2.60" text-anchor="end" font-weight="bold" fill="#5a5a5a">1.2</text>
<text x="190.60" y="269.20" font-size="2.60" text-anchor="middle" font-weight="bold" fill="#5a5a5a">0</text>
<text x="207.50" y="269.20" font-size="2.60" text-anchor="middle" font-weight="bold" fill="#5a5a5a">0.5</text>
<text x="224.39" y="269.20" font-size="2.60" text-anchor="middle" font-weight="bold" fill="#5a5a5a">1</text>
<text x="241.28" y="269.20" font-size="2.60" text-anchor="middle" font-weight="bold" fill="#5a5a5a">1.5</text>
<text x="258.18" y="269.20" font-size="2.60" text-anchor="middle" font-weight="bold" fill="#5a5a5a">2</text>
<text x="275.07" y="269.20" font-size="2.60" text-anchor="middle" font-weight="bold" fill="#5a5a5a">2.5</text>
<text x="291.97" y="269.20" font-size="2.60" text-anchor="middle" font-weight="bold" fill="#5a5a5a">3</text>
<text x="308.87" y="269.20" font-size="2.60" text-anchor="middle" font-weight="bold" fill="#5a5a5a">3.5</text>
<text x="325.76" y="269.20" font-size="2.60" text-anchor="middle" font-weight="bold" fill="#5a5a5a">4</text>
<text x="342.65" y="269.20" font-size="2.60" text-anchor="middle" font-weight="bold" fill="#5a5a5a">4.5</text>
<line x1="190.60" y1="172.60" x2="190.60" y2="186.50" stroke="#888888" stroke-width="0.70"/>
<line x1="189.70" y1="172.60" x2="191.50" y2="172.60" stroke="#888888" stroke-width="0.60"/>
<line x1="189.70" y1="186.50" x2="191.50" y2="186.50" stroke="#888888" stroke-width="0.60"/>
<line x1="207.50" y1="174.20" x2="207.50" y2="189.50" stroke="#888888" stroke-width="0.70"/>
<line x1="206.59" y1="174.20" x2="208.40" y2="174.20" stroke="#888888" stroke-width="0.60"/>
<line x1="206.59" y1="189.50" x2="208.40" y2="189.50" stroke="#888888" stroke-width="0.60"/>
<line x1="224.39" y1="171.80" x2="224.39" y2="194.90" stroke="#888888" stroke-width="0.70"/>
<line x1="223.49" y1="171.80" x2="225.29" y2="171.80" stroke="#888888" stroke-width="0.60"/>
<line x1="223.49" y1="194.90" x2="225.29" y2="194.90" stroke="#888888" stroke-width="0.60"/>
<line x1="258.18" y1="175.70" x2="258.18" y2="199.50" stroke="#888888" stroke-width="0.70"/>
<line x1="257.28" y1="175.70" x2="259.08" y2="175.70" stroke="#888888" stroke-width="0.60"/>
<line x1="257.28" y1="199.50" x2="259.08" y2="199.50" stroke="#888888" stroke-width="0.60"/>
<line x1="325.76" y1="175.00" x2="325.76" y2="198.75" stroke="#888888" stroke-width="0.70"/>
<line x1="324.86" y1="175.00" x2="326.66" y2="175.00" stroke="#888888" stroke-width="0.60"/>
<line x1="324.86" y1="198.75" x2="326.66" y2="198.75" stroke="#888888" stroke-width="0.60"/>
<path d="M190.60,179.50 C196.23,179.36 201.86,179.36 207.50,179.08 C213.12,178.80 215.95,177.06 224.39,177.83 C232.84,178.59 241.28,182.50 258.18,183.69 C275.07,184.87 303.23,184.52 325.76,184.94" fill="none" stroke="#888888" stroke-width="1.10"/>
<path d="M190.60,178.40l1.10,1.98h-2.20z" fill="#666"/>
<path d="M207.50,177.98l1.10,1.98h-2.20z" fill="#666"/>
<path d="M224.39,176.73l1.10,1.98h-2.20z" fill="#666"/>
<path d="M258.18,182.59l1.10,1.98h-2.20z" fill="#666"/>
<path d="M325.76,183.84l1.10,1.98h-2.20z" fill="#666"/>
<path d="M190.60,179.50 C196.23,179.78 201.86,180.62 207.50,180.34 C213.13,180.06 215.94,177.27 224.39,177.83 C232.84,178.38 241.28,182.57 258.18,183.69 C275.07,184.80 303.23,184.24 325.76,184.52" fill="none" stroke="#686868" stroke-width="1.20"/>
<path d="M190.60,178.30l1.20,1.20l-1.20,1.20l-1.20,-1.20z" fill="#333"/>
<path d="M207.50,179.14l1.20,1.20l-1.20,1.20l-1.20,-1.20z" fill="#333"/>
<path d="M224.39,176.63l1.20,1.20l-1.20,1.20l-1.20,-1.20z" fill="#333"/>
<path d="M258.18,182.49l1.20,1.20l-1.20,1.20l-1.20,-1.20z" fill="#333"/>
<path d="M325.76,183.32l1.20,1.20l-1.20,1.20l-1.20,-1.20z" fill="#333"/>
<path d="M190.60,179.50 C196.23,179.50 201.86,179.78 207.50,179.50 C213.01,179.23 216.12,175.91 224.39,177.83 C232.84,179.78 241.28,189.96 258.18,191.22 C275.07,192.47 303.23,187.31 325.76,185.36" fill="none" stroke="#606060" stroke-width="1.50"/>
<path d="M190.60,177.70l1.80,1.80l-1.80,1.80l-1.80,-1.80z" fill="#1a1a1a"/>
<path d="M207.50,177.70l1.80,1.80l-1.80,1.80l-1.80,-1.80z" fill="#1a1a1a"/>
<path d="M224.39,176.03l1.80,1.80l-1.80,1.80l-1.80,-1.80z" fill="#1a1a1a"/>
<path d="M258.18,189.42l1.80,1.80l-1.80,1.80l-1.80,-1.80z" fill="#1a1a1a"/>
<path d="M325.76,183.56l1.80,1.80l-1.80,1.80l-1.80,-1.80z" fill="#1a1a1a"/>
<path d="M190.60,179.50 C196.23,181.45 201.86,183.96 207.50,185.36 C213.13,186.75 215.94,187.03 224.39,187.87 C232.84,188.71 241.28,189.68 258.18,190.38 C275.07,191.08 303.23,191.50 325.76,192.06" fill="none" stroke="#666666" stroke-width="1.50"/>





<rect x="249.00" y="206.80" width="19.20" height="21.79" fill="#fff"/>
<line x1="252.00" y1="210.00" x2="257.60" y2="210.00" stroke="#686868" stroke-width="1.20"/>
<path d="M254.80,208.92l1.08,1.08l-1.08,1.08l-1.08,-1.08z" fill="#333"/>
<text x="258.20" y="210.95" font-size="2.60" textLength="6.00" lengthAdjust="spacingAndGlyphs" fill="#222" stroke="#222" stroke-width="0.10">6 hrs</text>
<line x1="252.00" y1="215.13" x2="257.60" y2="215.13" stroke="#606060" stroke-width="1.50"/>
<path d="M254.80,213.51l1.62,1.62l-1.62,1.62l-1.62,-1.62z" fill="#1a1a1a"/>
<text x="258.20" y="216.08" font-size="2.60" textLength="7.00" lengthAdjust="spacingAndGlyphs" fill="#222" stroke="#222" stroke-width="0.10">24 hrs</text>
<line x1="252.00" y1="220.26" x2="257.60" y2="220.26" stroke="#888888" stroke-width="1.10"/>
<path d="M254.80,219.27l0.99,1.78h-1.98z" fill="#666"/>
<text x="258.20" y="221.21" font-size="2.60" textLength="7.00" lengthAdjust="spacingAndGlyphs" fill="#222" stroke="#222" stroke-width="0.10">48 hrs</text>
<line x1="252.00" y1="225.39" x2="257.60" y2="225.39" stroke="#666666" stroke-width="1.50"/>

<text x="258.20" y="226.34" font-size="2.60" textLength="7.00" lengthAdjust="spacingAndGlyphs" fill="#222" stroke="#222" stroke-width="0.10">72 hrs</text>
<text x="255.90" y="158.60" font-size="4.50" font-weight="bold" textLength="27.10" lengthAdjust="spacingAndGlyphs" fill="#262626" stroke="#262626" stroke-width="0.35">380 (MLL-wt)</text>
<text transform="translate(176.80,154.60) scale(1.080,1)" font-size="11.00" font-weight="bold" fill="#000" stroke="#000" stroke-width="0.3">E</text>
<text transform="translate(180.55,237.80) rotate(-90)" font-size="3.80" font-weight="bold" textLength="41.60" lengthAdjust="spacingAndGlyphs" fill="#262626" stroke="#262626" stroke-width="0.32">% Control (Mean OD)</text>
<text x="232.50" y="275.90" font-size="4.40" font-weight="bold" textLength="68.30" lengthAdjust="spacingAndGlyphs" fill="#262626" stroke="#262626" stroke-width="0.35">5-Aza-2&#8217;-deoxycytidine (micromolar)</text>
<line x1="365.50" y1="246.18" x2="517.50" y2="246.18" stroke="#dadada" stroke-width="1.00"/>
<line x1="365.50" y1="229.46" x2="517.50" y2="229.46" stroke="#dadada" stroke-width="1.00"/>
<line x1="365.50" y1="212.74" x2="517.50" y2="212.74" stroke="#dadada" stroke-width="1.00"/>
<line x1="365.50" y1="196.02" x2="517.50" y2="196.02" stroke="#dadada" stroke-width="1.00"/>
<line x1="365.50" y1="179.30" x2="517.50" y2="179.30" stroke="#dadada" stroke-width="1.00"/>
<line x1="365.50" y1="162.58" x2="517.50" y2="162.58" stroke="#dadada" stroke-width="1.00"/>
<line x1="365.50" y1="262.90" x2="517.50" y2="262.90" stroke="#c4c4c4" stroke-width="0.90"/>
<line x1="365.50" y1="162.58" x2="365.50" y2="262.90" stroke="#c4c4c4" stroke-width="0.90"/>
<text x="363.10" y="264.14" font-size="2.60" text-anchor="end" font-weight="bold" fill="#5a5a5a">0</text>
<text x="363.10" y="247.42" font-size="2.60" text-anchor="end" font-weight="bold" fill="#5a5a5a">0.2</text>
<text x="363.10" y="230.70" font-size="2.60" text-anchor="end" font-weight="bold" fill="#5a5a5a">0.4</text>
<text x="363.10" y="213.98" font-size="2.60" text-anchor="end" font-weight="bold" fill="#5a5a5a">0.6</text>
<text x="363.10" y="197.26" font-size="2.60" text-anchor="end" font-weight="bold" fill="#5a5a5a">0.8</text>
<text x="363.10" y="180.54" font-size="2.60" text-anchor="end" font-weight="bold" fill="#5a5a5a">1</text>
<text x="363.10" y="163.82" font-size="2.60" text-anchor="end" font-weight="bold" fill="#5a5a5a">1.2</text>
<text x="365.50" y="268.90" font-size="2.60" text-anchor="middle" font-weight="bold" fill="#5a5a5a">0</text>
<text x="382.38" y="268.90" font-size="2.60" text-anchor="middle" font-weight="bold" fill="#5a5a5a">0.5</text>
<text x="399.25" y="268.90" font-size="2.60" text-anchor="middle" font-weight="bold" fill="#5a5a5a">1</text>
<text x="416.12" y="268.90" font-size="2.60" text-anchor="middle" font-weight="bold" fill="#5a5a5a">1.5</text>
<text x="433.00" y="268.90" font-size="2.60" text-anchor="middle" font-weight="bold" fill="#5a5a5a">2</text>
<text x="449.88" y="268.90" font-size="2.60" text-anchor="middle" font-weight="bold" fill="#5a5a5a">2.5</text>
<text x="466.75" y="268.90" font-size="2.60" text-anchor="middle" font-weight="bold" fill="#5a5a5a">3</text>
<text x="483.62" y="268.90" font-size="2.60" text-anchor="middle" font-weight="bold" fill="#5a5a5a">3.5</text>
<text x="500.50" y="268.90" font-size="2.60" text-anchor="middle" font-weight="bold" fill="#5a5a5a">4</text>
<text x="517.38" y="268.90" font-size="2.60" text-anchor="middle" font-weight="bold" fill="#5a5a5a">4.5</text>
<line x1="365.50" y1="174.00" x2="365.50" y2="185.00" stroke="#888888" stroke-width="0.70"/>
<line x1="364.60" y1="174.00" x2="366.40" y2="174.00" stroke="#888888" stroke-width="0.60"/>
<line x1="364.60" y1="185.00" x2="366.40" y2="185.00" stroke="#888888" stroke-width="0.60"/>
<line x1="382.38" y1="165.40" x2="382.38" y2="197.40" stroke="#888888" stroke-width="0.70"/>
<line x1="381.48" y1="165.40" x2="383.27" y2="165.40" stroke="#888888" stroke-width="0.60"/>
<line x1="381.48" y1="197.40" x2="383.27" y2="197.40" stroke="#888888" stroke-width="0.60"/>
<line x1="399.25" y1="164.50" x2="399.25" y2="200.00" stroke="#888888" stroke-width="0.70"/>
<line x1="398.35" y1="164.50" x2="400.15" y2="164.50" stroke="#888888" stroke-width="0.60"/>
<line x1="398.35" y1="200.00" x2="400.15" y2="200.00" stroke="#888888" stroke-width="0.60"/>
<line x1="433.00" y1="161.90" x2="433.00" y2="202.60" stroke="#888888" stroke-width="0.70"/>
<line x1="432.10" y1="161.90" x2="433.90" y2="161.90" stroke="#888888" stroke-width="0.60"/>
<line x1="432.10" y1="202.60" x2="433.90" y2="202.60" stroke="#888888" stroke-width="0.60"/>
<line x1="500.50" y1="165.00" x2="500.50" y2="202.50" stroke="#888888" stroke-width="0.70"/>
<line x1="499.60" y1="165.00" x2="501.40" y2="165.00" stroke="#888888" stroke-width="0.60"/>
<line x1="499.60" y1="202.50" x2="501.40" y2="202.50" stroke="#888888" stroke-width="0.60"/>
<path d="M365.50,179.30 C371.12,179.86 376.75,180.55 382.38,180.97 C388.00,181.39 390.81,181.53 399.25,181.81 C407.69,182.09 416.12,183.02 433.00,182.64 C449.88,182.27 478.00,180.58 500.50,179.55" fill="none" stroke="#888888" stroke-width="1.10"/>
<path d="M365.50,178.20l1.10,1.98h-2.20z" fill="#666"/>
<path d="M382.38,179.87l1.10,1.98h-2.20z" fill="#666"/>
<path d="M399.25,180.71l1.10,1.98h-2.20z" fill="#666"/>
<path d="M433.00,181.54l1.10,1.98h-2.20z" fill="#666"/>
<path d="M500.50,178.45l1.10,1.98h-2.20z" fill="#666"/>
<path d="M365.50,179.30 C371.12,175.84 376.75,170.61 382.38,168.93 C387.98,167.27 390.85,170.07 399.25,169.27 C407.69,168.46 416.12,163.95 433.00,164.08 C449.88,164.22 478.00,168.10 500.50,170.10" fill="none" stroke="#686868" stroke-width="1.20"/>
<path d="M365.50,178.10l1.20,1.20l-1.20,1.20l-1.20,-1.20z" fill="#333"/>
<path d="M382.38,167.73l1.20,1.20l-1.20,1.20l-1.20,-1.20z" fill="#333"/>
<path d="M399.25,168.07l1.20,1.20l-1.20,1.20l-1.20,-1.20z" fill="#333"/>
<path d="M433.00,162.88l1.20,1.20l-1.20,1.20l-1.20,-1.20z" fill="#333"/>
<path d="M500.50,168.90l1.20,1.20l-1.20,1.20l-1.20,-1.20z" fill="#333"/>
<path d="M365.50,179.30 C371.12,178.74 376.75,177.04 382.38,177.63 C388.00,178.21 390.81,183.40 399.25,182.81 C407.69,182.23 416.12,175.20 433.00,174.12 C449.88,173.03 478.00,175.57 500.50,176.29" fill="none" stroke="#606060" stroke-width="1.50"/>
<path d="M365.50,177.50l1.80,1.80l-1.80,1.80l-1.80,-1.80z" fill="#1a1a1a"/>
<path d="M382.38,175.83l1.80,1.80l-1.80,1.80l-1.80,-1.80z" fill="#1a1a1a"/>
<path d="M399.25,181.01l1.80,1.80l-1.80,1.80l-1.80,-1.80z" fill="#1a1a1a"/>
<path d="M433.00,172.32l1.80,1.80l-1.80,1.80l-1.80,-1.80z" fill="#1a1a1a"/>
<path d="M500.50,174.49l1.80,1.80l-1.80,1.80l-1.80,-1.80z" fill="#1a1a1a"/>
<path d="M365.50,179.30 C371.12,183.48 376.75,189.33 382.38,191.84 C388.00,194.35 390.81,194.01 399.25,194.35 C407.69,194.68 416.13,193.57 433.00,193.85 C449.88,194.13 478.00,195.30 500.50,196.02" fill="none" stroke="#666666" stroke-width="1.50"/>





<rect x="426.20" y="205.80" width="19.80" height="21.49" fill="#fff"/>
<line x1="429.20" y1="209.00" x2="434.80" y2="209.00" stroke="#686868" stroke-width="1.20"/>
<path d="M432.00,207.92l1.08,1.08l-1.08,1.08l-1.08,-1.08z" fill="#333"/>
<text x="435.40" y="209.95" font-size="2.60" textLength="6.60" lengthAdjust="spacingAndGlyphs" fill="#222" stroke="#222" stroke-width="0.10">6 hrs</text>
<line x1="429.20" y1="214.03" x2="434.80" y2="214.03" stroke="#606060" stroke-width="1.50"/>
<path d="M432.00,212.41l1.62,1.62l-1.62,1.62l-1.62,-1.62z" fill="#1a1a1a"/>
<text x="435.40" y="214.98" font-size="2.60" textLength="7.60" lengthAdjust="spacingAndGlyphs" fill="#222" stroke="#222" stroke-width="0.10">24 hrs</text>
<line x1="429.20" y1="219.06" x2="434.80" y2="219.06" stroke="#888888" stroke-width="1.10"/>
<path d="M432.00,218.07l0.99,1.78h-1.98z" fill="#666"/>
<text x="435.40" y="220.01" font-size="2.60" textLength="7.60" lengthAdjust="spacingAndGlyphs" fill="#222" stroke="#222" stroke-width="0.10">48 hrs</text>
<line x1="429.20" y1="224.09" x2="434.80" y2="224.09" stroke="#666666" stroke-width="1.50"/>

<text x="435.40" y="225.04" font-size="2.60" textLength="7.60" lengthAdjust="spacingAndGlyphs" fill="#222" stroke="#222" stroke-width="0.10">72 hrs</text>
<text x="425.60" y="158.20" font-size="4.50" font-weight="bold" textLength="37.70" lengthAdjust="spacingAndGlyphs" fill="#262626" stroke="#262626" stroke-width="0.35">TANOUE (MLL-wt)</text>
<text transform="translate(352.50,153.50) scale(1.080,1)" font-size="11.00" font-weight="bold" fill="#000" stroke="#000" stroke-width="0.3">F</text>
<text transform="translate(356.25,232.50) rotate(-90)" font-size="3.80" font-weight="bold" textLength="39.10" lengthAdjust="spacingAndGlyphs" fill="#262626" stroke="#262626" stroke-width="0.32">% Control (Mean OD)</text>
<text x="407.10" y="275.90" font-size="4.40" font-weight="bold" textLength="68.70" lengthAdjust="spacingAndGlyphs" fill="#262626" stroke="#262626" stroke-width="0.35">5-Aza-2&#8217;-deoxycytidine (micromolar)</text>
<line x1="192.20" y1="414.10" x2="357.50" y2="414.10" stroke="#dadada" stroke-width="1.00"/>
<line x1="192.20" y1="393.90" x2="357.50" y2="393.90" stroke="#dadada" stroke-width="1.00"/>
<line x1="192.20" y1="373.70" x2="357.50" y2="373.70" stroke="#dadada" stroke-width="1.00"/>
<line x1="192.20" y1="353.50" x2="357.50" y2="353.50" stroke="#dadada" stroke-width="1.00"/>
<line x1="192.20" y1="333.30" x2="357.50" y2="333.30" stroke="#dadada" stroke-width="1.00"/>
<line x1="192.20" y1="313.10" x2="357.50" y2="313.10" stroke="#dadada" stroke-width="1.00"/>
<line x1="192.20" y1="434.30" x2="357.50" y2="434.30" stroke="#c4c4c4" stroke-width="0.90"/>
<line x1="192.20" y1="313.10" x2="192.20" y2="434.30" stroke="#c4c4c4" stroke-width="0.90"/>
<text x="188.70" y="435.64" font-size="2.90" text-anchor="end" font-weight="normal" fill="#555">0</text>
<text x="188.70" y="415.44" font-size="2.90" text-anchor="end" font-weight="normal" fill="#555">0.2</text>
<text x="188.70" y="395.24" font-size="2.90" text-anchor="end" font-weight="normal" fill="#555">0.4</text>
<text x="188.70" y="375.04" font-size="2.90" text-anchor="end" font-weight="normal" fill="#555">0.6</text>
<text x="188.70" y="354.84" font-size="2.90" text-anchor="end" font-weight="normal" fill="#555">0.8</text>
<text x="188.70" y="334.64" font-size="2.90" text-anchor="end" font-weight="normal" fill="#555">1</text>
<text x="188.70" y="314.44" font-size="2.90" text-anchor="end" font-weight="normal" fill="#555">1.2</text>
<text x="192.20" y="440.60" font-size="2.90" text-anchor="middle" font-weight="normal" fill="#555">0</text>
<text x="210.55" y="440.60" font-size="2.90" text-anchor="middle" font-weight="normal" fill="#555">0.5</text>
<text x="228.90" y="440.60" font-size="2.90" text-anchor="middle" font-weight="normal" fill="#555">1</text>
<text x="247.25" y="440.60" font-size="2.90" text-anchor="middle" font-weight="normal" fill="#555">1.5</text>
<text x="265.60" y="440.60" font-size="2.90" text-anchor="middle" font-weight="normal" fill="#555">2</text>
<text x="283.95" y="440.60" font-size="2.90" text-anchor="middle" font-weight="normal" fill="#555">2.5</text>
<text x="302.30" y="440.60" font-size="2.90" text-anchor="middle" font-weight="normal" fill="#555">3</text>
<text x="320.65" y="440.60" font-size="2.90" text-anchor="middle" font-weight="normal" fill="#555">3.5</text>
<text x="339.00" y="440.60" font-size="2.90" text-anchor="middle" font-weight="normal" fill="#555">4</text>
<text x="357.35" y="440.60" font-size="2.90" text-anchor="middle" font-weight="normal" fill="#555">4.5</text>
<path d="M192.20,333.30 C198.32,341.45 204.43,352.36 210.55,357.74 C216.67,363.13 219.72,362.42 228.90,365.62 C238.07,368.82 247.25,373.13 265.60,376.93 C283.95,380.74 314.53,384.61 339.00,388.45" fill="none" stroke="#858585" stroke-width="1.00"/>
<path d="M192.20,332.30l1.00,1.80h-2.00z" fill="#666"/>
<path d="M210.55,356.74l1.00,1.80h-2.00z" fill="#666"/>
<path d="M228.90,364.62l1.00,1.80h-2.00z" fill="#666"/>
<path d="M265.60,375.93l1.00,1.80h-2.00z" fill="#666"/>
<path d="M339.00,387.45l1.00,1.80h-2.00z" fill="#666"/>
<path d="M192.20,333.30 C198.32,338.15 204.43,344.75 210.55,347.84 C216.67,350.94 219.72,351.41 228.90,351.88 C238.07,352.36 247.25,350.40 265.60,350.67 C283.95,350.94 314.53,352.56 339.00,353.50" fill="none" stroke="#747474" stroke-width="1.00"/>
<circle cx="192.20" cy="333.30" r="1.10" fill="#555"/>
<circle cx="210.55" cy="347.84" r="1.10" fill="#555"/>
<circle cx="228.90" cy="351.88" r="1.10" fill="#555"/>
<circle cx="265.60" cy="350.67" r="1.10" fill="#555"/>
<circle cx="339.00" cy="353.50" r="1.10" fill="#555"/>
<path d="M192.20,333.30 C198.32,335.82 204.43,339.16 210.55,340.88 C216.67,342.59 219.72,342.64 228.90,343.60 C238.07,344.56 247.25,345.87 265.60,346.63 C283.95,347.39 314.53,347.64 339.00,348.15" fill="none" stroke="#7a7a7a" stroke-width="1.00"/>
<path d="M192.20,332.40l0.90,0.90l-0.90,0.90l-0.90,-0.90z" fill="#555"/>
<path d="M210.55,339.98l0.90,0.90l-0.90,0.90l-0.90,-0.90z" fill="#555"/>
<path d="M228.90,342.70l0.90,0.90l-0.90,0.90l-0.90,-0.90z" fill="#555"/>
<path d="M265.60,345.73l0.90,0.90l-0.90,0.90l-0.90,-0.90z" fill="#555"/>
<path d="M339.00,347.25l0.90,0.90l-0.90,0.90l-0.90,-0.90z" fill="#555"/>
<path d="M192.20,333.30 C198.32,332.16 204.43,328.86 210.55,329.87 C216.67,330.88 219.72,338.45 228.90,339.36 C238.07,340.27 247.25,336.83 265.60,335.32 C283.95,333.81 314.53,331.95 339.00,330.27" fill="none" stroke="#555555" stroke-width="1.05"/>
<path d="M192.20,332.40l0.90,0.90l-0.90,0.90l-0.90,-0.90z" fill="#444"/>
<path d="M210.55,328.97l0.90,0.90l-0.90,0.90l-0.90,-0.90z" fill="#444"/>
<path d="M228.90,338.46l0.90,0.90l-0.90,0.90l-0.90,-0.90z" fill="#444"/>
<path d="M265.60,334.42l0.90,0.90l-0.90,0.90l-0.90,-0.90z" fill="#444"/>
<path d="M339.00,329.37l0.90,0.90l-0.90,0.90l-0.90,-0.90z" fill="#444"/>
<path d="M192.20,333.30 C198.32,347.14 204.43,367.59 210.55,374.81 C216.51,381.85 220.06,374.00 228.90,376.63 C238.07,379.36 247.25,386.61 265.60,391.17 C283.95,395.73 314.53,399.72 339.00,404.00" fill="none" stroke="#585858" stroke-width="1.40"/>
<circle cx="192.20" cy="333.30" r="1.50" fill="#111"/>
<circle cx="210.55" cy="374.81" r="1.50" fill="#111"/>
<circle cx="228.90" cy="376.63" r="1.50" fill="#111"/>
<circle cx="265.60" cy="391.17" r="1.50" fill="#111"/>
<circle cx="339.00" cy="404.00" r="1.50" fill="#111"/>
<path d="M192.20,333.30 C198.32,355.18 204.43,386.83 210.55,398.95 C214.98,407.73 222.25,404.07 228.90,406.02 C238.07,408.71 247.25,412.01 265.60,415.11 C283.95,418.21 314.53,421.44 339.00,424.60" fill="none" stroke="#585858" stroke-width="1.35"/>
<circle cx="192.20" cy="333.30" r="1.10" fill="#222"/>
<circle cx="210.55" cy="398.95" r="1.10" fill="#222"/>
<circle cx="228.90" cy="406.02" r="1.10" fill="#222"/>
<circle cx="265.60" cy="415.11" r="1.10" fill="#222"/>
<circle cx="339.00" cy="424.60" r="1.10" fill="#222"/>
<path d="M350.90,330.80 q1.50,0 1.50,1.2 V352.20 q0,1.2 -1.5,1.2 M352.40,342.30 h2.4" fill="none" stroke="#555" stroke-width="0.7"/>
<text x="360.60" y="343.50" font-size="3.40" textLength="25.40" lengthAdjust="spacingAndGlyphs" fill="#3a3a3a">ALL with MLL-wt</text>
<path d="M351.00,389.00 q1.50,0 1.50,1.2 V424.10 q0,1.2 -1.5,1.2 M352.50,407.40 h2.4" fill="none" stroke="#555" stroke-width="0.7"/>
<text x="360.60" y="408.60" font-size="3.40" textLength="22.60" lengthAdjust="spacingAndGlyphs" fill="#3a3a3a">ALL with MLL-r</text>
<line x1="364.20" y1="367.00" x2="371.60" y2="367.00" stroke="#555555" stroke-width="1.05"/>
<path d="M367.90,366.10l0.90,0.90l-0.90,0.90l-0.90,-0.90z" fill="#444"/>
<text x="372.00" y="368.05" font-size="2.90" textLength="23.30" lengthAdjust="spacingAndGlyphs" fill="#444">NALM6 (MLL-wt)</text>
<line x1="364.20" y1="373.15" x2="371.60" y2="373.15" stroke="#7a7a7a" stroke-width="1.00"/>
<path d="M367.90,372.25l0.90,0.90l-0.90,0.90l-0.90,-0.90z" fill="#555"/>
<text x="372.00" y="374.20" font-size="2.90" textLength="17.80" lengthAdjust="spacingAndGlyphs" fill="#444">380 (MLL-wt)</text>
<line x1="364.20" y1="379.30" x2="371.60" y2="379.30" stroke="#747474" stroke-width="1.00"/>
<circle cx="367.90" cy="379.30" r="1.10" fill="#555"/>
<text x="372.00" y="380.35" font-size="2.90" textLength="24.30" lengthAdjust="spacingAndGlyphs" fill="#444">TANOUE (MLL-wt)</text>
<line x1="364.20" y1="385.45" x2="371.60" y2="385.45" stroke="#858585" stroke-width="1.00"/>
<path d="M367.90,384.45l1.00,1.80h-2.00z" fill="#666"/>
<text x="372.00" y="386.50" font-size="2.90" textLength="24.00" lengthAdjust="spacingAndGlyphs" fill="#444">SEMK2 (MLL-AF4)</text>
<line x1="364.20" y1="391.60" x2="371.60" y2="391.60" stroke="#585858" stroke-width="1.40"/>
<circle cx="367.90" cy="391.60" r="1.50" fill="#111"/>
<text x="372.00" y="392.65" font-size="2.90" textLength="25.70" lengthAdjust="spacingAndGlyphs" fill="#444">HB1119 (MLL-ENL)</text>
<line x1="364.20" y1="397.75" x2="371.60" y2="397.75" stroke="#585858" stroke-width="1.35"/>
<circle cx="367.90" cy="397.75" r="1.10" fill="#222"/>
<text x="372.00" y="398.80" font-size="2.90" textLength="24.30" lengthAdjust="spacingAndGlyphs" fill="#444">KOPN8 (MLL-ENL)</text>
<text x="244.20" y="307.60" font-size="5.40" font-weight="bold" textLength="83.70" lengthAdjust="spacingAndGlyphs" fill="#262626" stroke="#262626" stroke-width="0.30">SUMMARY: CELL LINES AT 72 HRS</text>
<text transform="translate(173.70,309.20) scale(1.040,1)" font-size="12.30" font-weight="bold" fill="#000" stroke="#000" stroke-width="0.3">G</text>
<text transform="translate(180.95,398.00) rotate(-90)" font-size="4.40" font-weight="bold" textLength="48.70" lengthAdjust="spacingAndGlyphs" fill="#262626" stroke="#262626" stroke-width="0.28">% Control (Mean OD)</text>
<text x="233.70" y="449.60" font-size="4.80" font-weight="bold" textLength="82.10" lengthAdjust="spacingAndGlyphs" fill="#262626" stroke="#262626" stroke-width="0.28">5-Aza-2&#8217;-deoxycytidine (micromolar)</text>
</g>
</svg>
</body></html>
